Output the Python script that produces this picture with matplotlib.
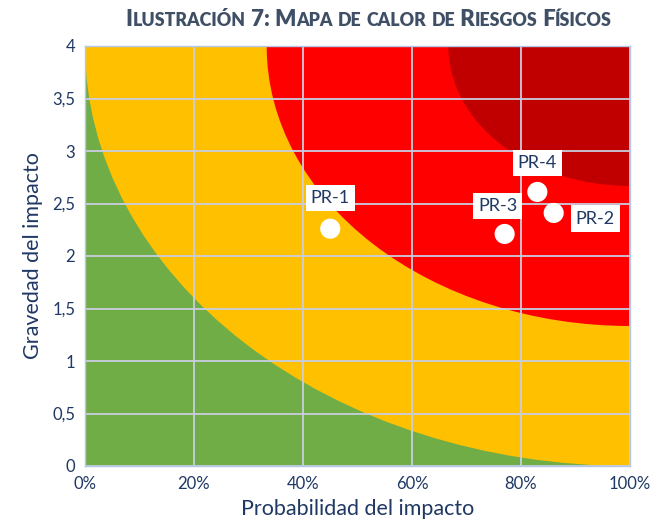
import matplotlib
matplotlib.use("Agg")
from matplotlib import pyplot as plt
from matplotlib.patches import Ellipse
from matplotlib.ticker import FuncFormatter
from matplotlib.offsetbox import TextArea, HPacker, AnnotationBbox

# --- data ---
title = "Ilustración 7: Mapa de calor de Riesgos Físicos"
x_label = "Probabilidad del impacto"
y_label = "Gravedad del impacto"
risk_names = ["PR-1", "PR-2", "PR-3", "PR-4"]
probabilidad = [0.45, 0.86, 0.77, 0.83]
gravedad = [2.26, 2.41, 2.21, 2.61]
# zones: radius (fraction of axes) measured from the top-right corner
zone_radius = [1.0, 2 / 3, 1 / 3]
zone_colors = ["#FFC000", "#FF0000", "#C00000"]
base_color = "#70AD47"
x_ticks = [0, 0.2, 0.4, 0.6, 0.8, 1.0]
y_ticks = [0, 0.5, 1, 1.5, 2, 2.5, 3, 3.5, 4]

navy = "#1F3864"
font = "Lato"

fig = plt.figure(figsize=(6.5, 5.32), dpi=100)
ax = fig.add_axes([85 / 650, 66 / 532, 545 / 650, 420 / 532])
ax.set_xlim(0, 1)
ax.set_ylim(0, 4)
ax.set_facecolor(base_color)

# colour zones as ellipses centred on (100%, 4)
for r, c in zip(zone_radius, zone_colors):
    e = Ellipse((1.0, 4.0), 2 * r * 1.0, 2 * r * 4.0, facecolor=c,
                edgecolor="none", zorder=1)
    ax.add_patch(e)

ax.set_axisbelow("line")
ax.grid(True, color="#C8CEE0", linewidth=1.3)
ax.set_xticks(x_ticks)
ax.set_yticks(y_ticks)
ax.xaxis.set_major_formatter(FuncFormatter(lambda v, p: "%d%%" % round(v * 100)))
ax.yaxis.set_major_formatter(FuncFormatter(lambda v, p: ("%g" % v).replace(".", ",")))
ax.tick_params(length=0, labelsize=12, labelcolor=navy, pad=7)
for lab in ax.get_xticklabels() + ax.get_yticklabels():
    lab.set_fontfamily(font)
for s in ax.spines.values():
    s.set_color("#B4C7E7")
    s.set_linewidth(1)

ax.set_xlabel(x_label, fontsize=15.5, color=navy, fontfamily=font, labelpad=5)
ax.set_ylabel(y_label, fontsize=15.5, color=navy, fontfamily=font, labelpad=7)

# risk points
ax.scatter(probabilidad, gravedad, s=210, color="white", edgecolors="none", zorder=3)
label_offsets = {"PR-1": (0, 22), "PR-2": (30, -4), "PR-3": (-5, 20), "PR-4": (0, 21)}
for name, px, py in zip(risk_names, probabilidad, gravedad):
    ax.annotate(name, (px, py), xytext=label_offsets[name], textcoords="offset points",
                ha="center", va="center", fontsize=13, color=navy, fontfamily=font,
                bbox=dict(boxstyle="square,pad=0.28", facecolor="white", edgecolor="none"),
                zorder=4)

# small-caps title
runs = []
for ch in title:
    big = not ch.islower()
    if runs and runs[-1][1] == big:
        runs[-1][0] += ch
    else:
        runs.append([ch, big])
boxes = [TextArea(t.upper(), textprops=dict(fontsize=16 if b else 12.8, color="#3F4F66",
                                             fontweight="heavy", fontfamily=font))
         for t, b in runs]
pack = HPacker(children=boxes, align="baseline", pad=0, sep=0)
ab = AnnotationBbox(pack, (369 / 650, 1 - 19 / 532), xycoords="figure fraction",
                    frameon=False, box_alignment=(0.5, 0.5))
fig.add_artist(ab)

fig.savefig("out.png", dpi=100)
